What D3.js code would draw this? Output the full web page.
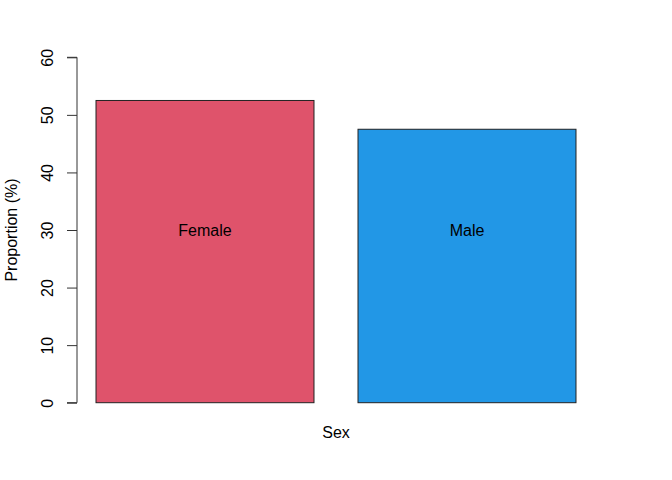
<!DOCTYPE html>
<html>
<head>
<meta charset="utf-8">
<script src="https://cdn.jsdelivr.net/npm/d3@7"></script>
<style>
  body { margin: 0; background: #fff; }
  svg text { font-family: "Liberation Sans", Arial, sans-serif; font-size: 16px; fill: #000; }
</style>
</head>
<body>
<svg id="chart" width="672" height="480"></svg>
<script>
var categories = ['Female', 'Male'];
var proportions = [52.5, 47.5];
var barColors = ['#DF536B', '#2297E6'];
var yTicks = [0, 10, 20, 30, 40, 50, 60];
var labelY = 30;

var width = 672;
var height = 480;

var svg = d3.select('#chart');

// plot region (matches R's default margins)
var x = d3.scaleBand()
  .domain(categories)
  .range([74, 598])
  .paddingInner(0.168)
  .paddingOuter(0.084);

var y = d3.scaleLinear()
  .domain([0, 60])
  .range([402.7, 57.3]);

// Bars
svg.selectAll('rect.bar')
  .data(categories)
  .enter().append('rect')
  .attr('class', 'bar')
  .attr('x', function(d) { return x(d); })
  .attr('y', function(d, i) { return y(proportions[i]); })
  .attr('width', x.bandwidth())
  .attr('height', function(d, i) { return y(0) - y(proportions[i]); })
  .attr('fill', function(d, i) { return barColors[i]; })
  .attr('stroke', '#222')
  .attr('stroke-width', 1);

// Labels inside bars
svg.selectAll('text.cat')
  .data(categories)
  .enter().append('text')
  .attr('class', 'cat')
  .attr('x', function(d) { return x(d) + x.bandwidth() / 2; })
  .attr('y', y(labelY))
  .attr('text-anchor', 'middle')
  .attr('dominant-baseline', 'central')
  .text(function(d) { return d; });

// Y axis
var yAxis = d3.axisLeft(y)
  .tickValues(yTicks)
  .tickSize(10)
  .tickPadding(0)
  .tickFormat(d3.format('d'));

var gy = svg.append('g')
  .attr('transform', 'translate(77,0)')
  .call(yAxis);

gy.select('.domain')
  .attr('stroke', '#333')
  .attr('d', 'M-10,' + y(0) + 'H0V' + y(60) + 'H-10');
gy.selectAll('.tick line').attr('stroke', '#333');
gy.selectAll('.tick text')
  .attr('x', null)
  .attr('dy', null)
  .attr('text-anchor', 'middle')
  .attr('transform', 'translate(-30,0) rotate(-90)')
  .attr('dominant-baseline', 'central')
  .style('font-size', '16px')
  .style('font-family', '"Liberation Sans", Arial, sans-serif');

// Axis titles
svg.append('text')
  .attr('x', 336)
  .attr('y', 438)
  .attr('text-anchor', 'middle')
  .text('Sex');

svg.append('text')
  .attr('transform', 'translate(11,' + y(30) + ') rotate(-90)')
  .attr('text-anchor', 'middle')
  .attr('dominant-baseline', 'central')
  .text('Proportion (%)');
</script>
</body>
</html>
